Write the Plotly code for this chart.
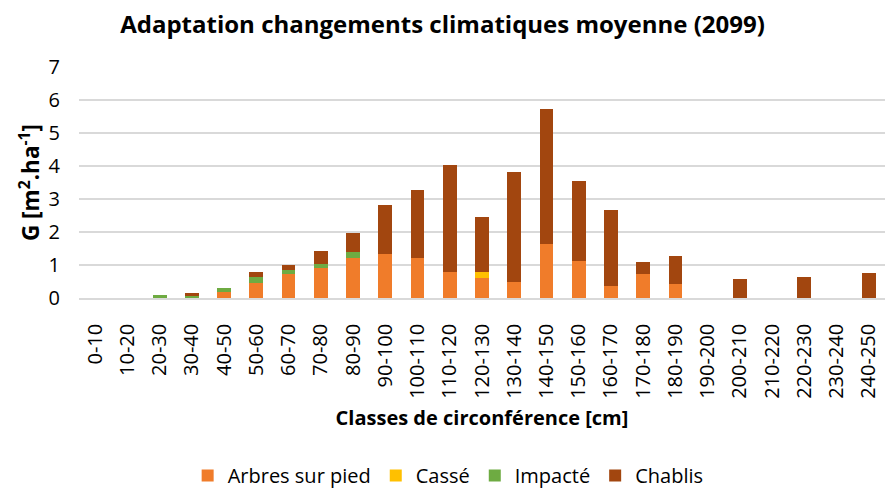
import plotly.graph_objects as go

# circumference classes
classes = ['0-10', '10-20', '20-30', '30-40', '40-50', '50-60', '60-70', '70-80',
           '80-90', '90-100', '100-110', '110-120', '120-130', '130-140', '140-150',
           '150-160', '160-170', '170-180', '180-190', '190-200', '200-210',
           '210-220', '220-230', '230-240', '240-250']

# G values per status (m2/ha)
arbres_sur_pied = [0, 0, 0, 0.01, 0.17, 0.45, 0.73, 0.91, 1.21, 1.33, 1.21, 0.8,
                   0.6, 0.48, 1.63, 1.13, 0.36, 0.72, 0.42, 0, 0, 0, 0, 0, 0]
casse = [0, 0, 0, 0, 0, 0, 0, 0, 0, 0, 0, 0,
         0.18, 0, 0, 0, 0, 0, 0, 0, 0, 0, 0, 0, 0]
impacte = [0, 0, 0.08, 0.04, 0.12, 0.18, 0.12, 0.12, 0.18, 0, 0, 0,
           0, 0, 0, 0, 0, 0, 0, 0, 0, 0, 0, 0, 0]
chablis = [0, 0, 0, 0.1, 0, 0.15, 0.15, 0.39, 0.59, 1.48, 2.07, 3.22,
           1.68, 3.34, 4.1, 2.42, 2.3, 0.38, 0.86, 0, 0.57, 0, 0.63, 0, 0.75]

series = [
    ('Arbres sur pied', arbres_sur_pied, '#F07C2A'),
    ('Cassé', casse, '#FFC000'),
    ('Impacté', impacte, '#6EAB42'),
    ('Chablis', chablis, '#A2460F'),
]

fig = go.Figure()
for name, vals, col in series:
    fig.add_trace(go.Bar(x=classes, y=vals, name=name, marker_color=col,
                         marker_line_width=0))

font = 'Open Sans'
fig.update_layout(
    template='none',
    barmode='stack',
    bargap=0.57,
    width=885, height=495,
    margin=dict(l=79, r=0, t=67, b=191),
    paper_bgcolor='white', plot_bgcolor='white',
    font=dict(family=font, size=20, color='#000000'),
    title=dict(text='<b>Adaptation changements climatiques moyenne (2099)</b>',
               x=0.5, xanchor='center', y=0.95, yanchor='middle',
               font=dict(family=font, size=24, color='#000000')),
    legend=dict(orientation='h', x=0.458, xanchor='center', y=-0.77, yanchor='middle',
                font=dict(family=font, size=20), traceorder='normal'),
)
fig.update_yaxes(range=[0, 7], dtick=1, showgrid=True, gridcolor='#D9D9D9',
                 gridwidth=1.5, zeroline=False, showline=False, automargin=False,
                 tickfont=dict(size=20), ticks='', ticklabelstandoff=18,
                 title=dict(text='<b>G [m<sup>2</sup>.ha<sup>-1</sup>]</b>',
                            font=dict(size=22.5), standoff=2))
fig.update_xaxes(tickangle=-90, showline=True, linecolor='#D9D9D9', linewidth=1.5,
                 automargin=False, showgrid=False,
                 tickfont=dict(size=20), ticks='', ticklabelstandoff=16,
                 title=dict(text='<b>Classes de circonférence [cm]</b>',
                            font=dict(size=20), standoff=13))

# drop the default 8px body margin so the figure fills the window exactly
fig.write_html('out.html',
               config={'displayModeBar': False},
               post_script="document.body.style.margin='0';"
                           "document.body.style.overflow='hidden';")
